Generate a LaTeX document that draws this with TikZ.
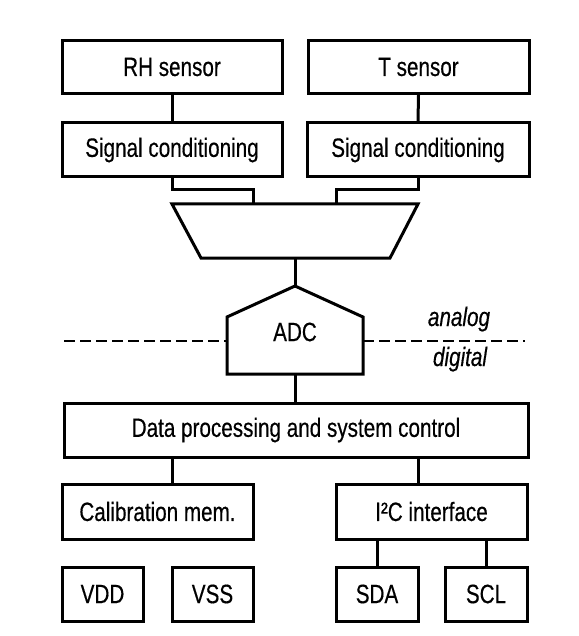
\documentclass[tikz,border=0pt]{standalone}
\usepackage{fontspec}
\setmainfont{Liberation Sans}[FakeStretch=0.78, FakeBold=0.4]
\begin{document}
\begin{tikzpicture}[x=1pt,y=-1pt,
  every node/.style={font=\fontsize{26.5}{30}\selectfont, inner sep=0pt},
  blk/.style={draw=black, line width=3pt, minimum height=54pt, anchor=center},
  conn/.style={line width=3pt},
  sep/.style={line width=2.6pt, dash pattern=on 11pt off 5pt}]
\useasboundingbox (0,0) rectangle (578,636);
% top row
\node[blk, minimum width=220pt, minimum height=53pt] (rh) at (172,67) {RH sensor};
\node[blk, minimum width=221pt, minimum height=53pt] (ts) at (418.5,67) {T sensor};
\node[blk, minimum width=220pt] (sc1) at (172,150) {Signal conditioning};
\node[blk, minimum width=222pt] (sc2) at (418,150) {Signal conditioning};
% mux
\coordinate (mux1) at (253,204);
\coordinate (mux2) at (336,204);
\coordinate (muxB) at (295,258);
\draw[conn, line join=miter] (172,204) -- (418,204) -- (390,258) -- (201,258) -- cycle;
% ADC
\coordinate (adcT) at (295,286);
\coordinate (adcB) at (295,374);
\coordinate (adcL) at (227,341);
\coordinate (adcR) at (363,341);
\draw[conn, line join=miter] (227,374) -- (227,317) -- (adcT) -- (363,317) -- (363,374) -- cycle;
\node (adc) at (295,332) {ADC};
% analog / digital separation
\coordinate (sepL) at (64,341);
\coordinate (sepR) at (525,341);
\draw[sep] (sepL) -- (adcL);
\draw[sep] (adcR) -- (sepR);
\node[anchor=base, font=\fontsize{26.5}{30}\selectfont\itshape] (an) at (459,326) {analog};
\node[anchor=base, font=\fontsize{26.5}{30}\selectfont\itshape] (dg) at (460,366) {digital};
% lower blocks
\node[blk, minimum width=464pt] (dp) at (296,430) {Data processing and system control};
\node[blk, minimum width=191pt, minimum height=55pt] (cal) at (157.5,511.5) {Calibration mem.};
\node[blk, minimum width=191pt, minimum height=55pt] (i2c) at (431.5,511.5) {I²C interface};
\node[blk, minimum width=81pt] (vdd) at (102.5,594) {VDD};
\node[blk, minimum width=81pt] (vss) at (212.5,594) {VSS};
\node[blk, minimum width=82pt] (sda) at (377,594) {SDA};
\node[blk, minimum width=82pt] (scl) at (486,594) {SCL};
% connectors
\draw[conn] (rh.south) -- (sc1.north);
\draw[conn] (ts.south) -- (sc2.north);
\draw[conn] (sc1.south) -- ++(0,11) -| (mux1);
\draw[conn] (sc2.south) -- ++(0,11) -| (mux2);
\draw[conn] (muxB) -- (adcT);
\draw[conn] (adcB) -- (adcB |- dp.north);
\draw[conn] (dp.south -| sc1.south) -- (sc1.south |- cal.north);
\draw[conn] (dp.south -| sc2.south) -- (sc2.south |- i2c.north);
\draw[conn] (i2c.south -| sda.north) -- (sda.north);
\draw[conn] (i2c.south -| scl.north) -- (scl.north);
\end{tikzpicture}
\end{document}
